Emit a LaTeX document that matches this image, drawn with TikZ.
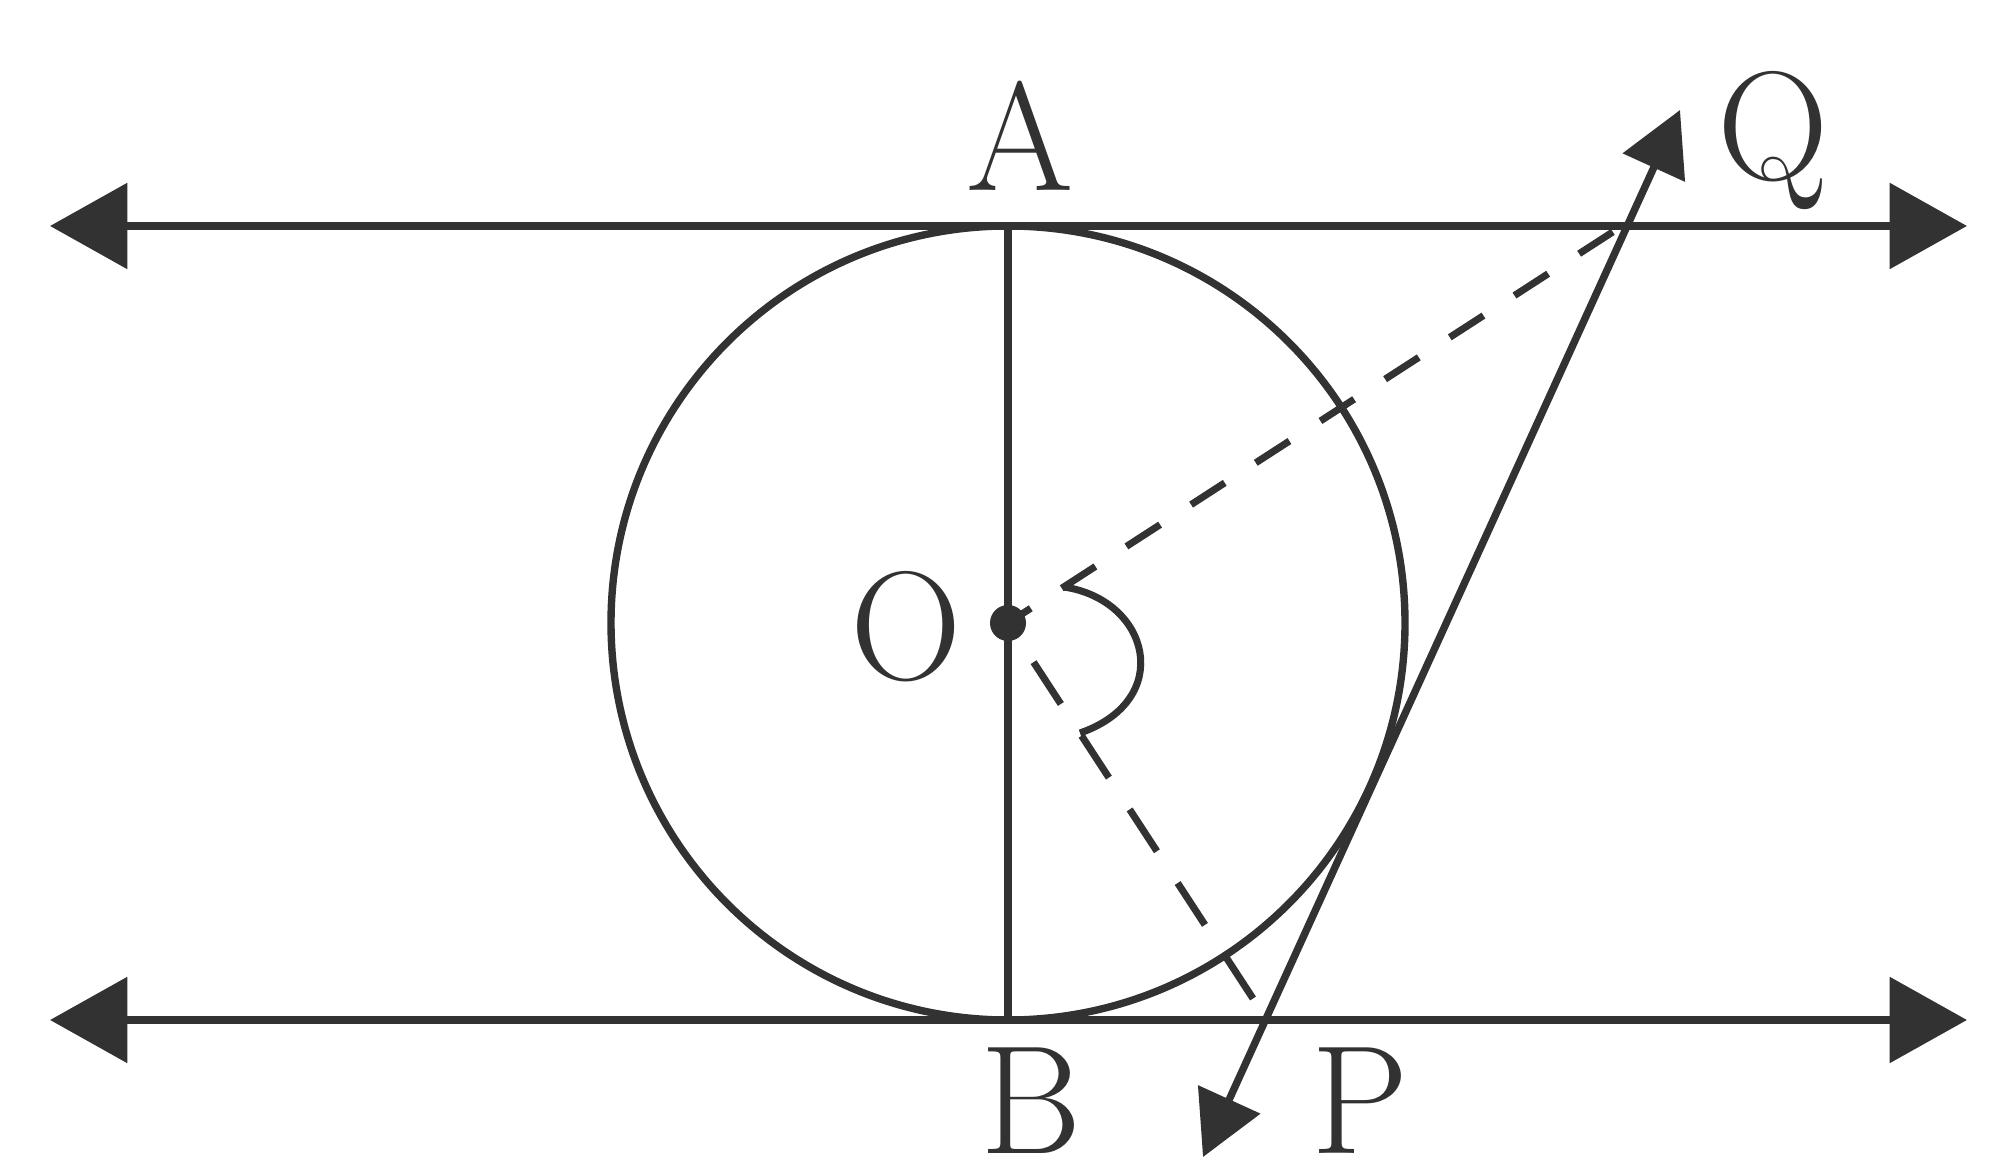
\documentclass[tikz,border=0pt]{standalone}
\usetikzlibrary{arrows.meta}
\definecolor{ink}{RGB}{50,50,50}
\begin{document}
\begin{tikzpicture}[x=0.01cm,y=-0.01cm,
  parline/.style={draw=ink, line width=2.3pt,
    {Triangle[length=22pt,width=24pt]}-{Triangle[length=22pt,width=24pt]}},
  thinline/.style={draw=ink, line width=2.1pt},
  tangentline/.style={draw=ink, line width=2.1pt,
    {Triangle[length=18pt,width=19pt]}-{Triangle[length=18pt,width=19pt]}},
  dashq/.style={draw=ink, line width=2pt, dash pattern=on 11.4pt off 10.5pt, dash phase=3.7pt},
  dashp/.style={draw=ink, line width=2pt, dash pattern=on 14.2pt off 10.8pt, dash phase=11.7pt},
  lbl/.style={text=ink, inner sep=0pt, anchor=base, font=\fontsize{44}{46}\selectfont}]
\useasboundingbox (0,0) rectangle (2000,1171);
\fill[white] (0,0) rectangle (2000,1171);
% points
\coordinate (O) at (1008,623);
\coordinate (A) at (1008,226);
\coordinate (B) at (1008,1020);
\coordinate (P) at (1267,1020);
\coordinate (Q) at (1622,226);
\coordinate (TL) at (50,226);
\coordinate (TR) at (1967,226);
\coordinate (BL) at (50,1020);
\coordinate (BR) at (1967,1020);
\coordinate (T1) at (1203,1157);
\coordinate (T2) at (1680,110);
\coordinate (M1) at (1064,587);
\coordinate (M2) at (1080,733);
% circle and diameter
\draw[thinline] (O) circle (397);
\draw[draw=ink, line width=2.2pt] (A) -- (B);
% parallel tangents
\draw[parline] (TL) -- (TR);
\draw[parline] (BL) -- (BR);
% dashed segments
\draw[dashq] (O) -- (Q);
\draw[dashp] (O) -- (P);
% third tangent
\draw[tangentline] (T1) -- (T2);
% angle mark
\draw[draw=ink, line width=2pt] (M1) .. controls (1150,600) and (1175,700) .. (M2);
% centre dot
\fill[ink] (O) circle (18);
% labels
\node[lbl] (lA) at (1020,191) {A};
\node[lbl] (lB) at (1031,1154) {B};
\node[lbl] (lO) at (906,680) {O};
\node[lbl] (lQ) at (1773,180) {Q};
\node[lbl] (lP) at (1360,1154) {P};
\end{tikzpicture}
\end{document}
